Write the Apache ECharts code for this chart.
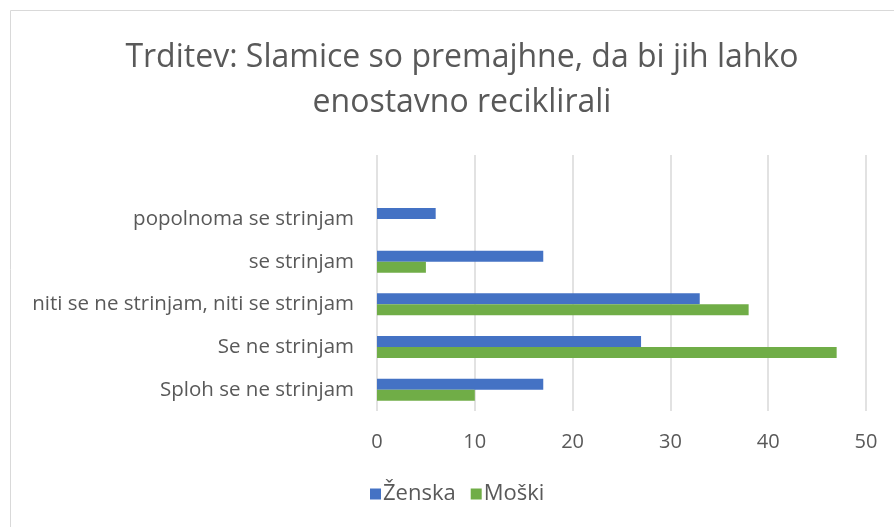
<!DOCTYPE html>
<html>
<head>
<meta charset="utf-8">
<script src="https://cdn.jsdelivr.net/npm/echarts@6/dist/echarts.min.js"></script>
<style>
  html, body { margin: 0; padding: 0; background: #fff; }
  #main { width: 894px; height: 527px; }
</style>
</head>
<body>
<div id="main"></div>
<script>
// categories bottom -> top (top one is the empty slot Excel leaves)
var categories = ['Sploh se ne strinjam', 'Se ne strinjam', 'niti se ne strinjam, niti se strinjam', 'se strinjam', 'popolnoma se strinjam', ''];
var zenska = [17, 27, 33, 17, 6, null];
var moski = [10, 47, 38, 5, null, null];
var xTicks = [0, 10, 20, 30, 40, 50];

var font = 'Open Sans';
var chart = echarts.init(document.getElementById('main'));

chart.setOption({
    animation: false,
    title: {
        text: 'Trditev: Slamice so premajhne, da bi jih lahko\nenostavno reciklirali',
        left: 457,
        textAlign: 'center',
        top: 30,
        textStyle: {
            fontFamily: font,
            fontSize: 32,
            fontWeight: 'normal',
            color: '#595959',
            lineHeight: 45
        }
    },
    legend: {
        data: ['Ženska', 'Moški'],
        bottom: 17,
        left: 365,
        icon: 'rect',
        itemWidth: 11,
        itemHeight: 11,
        itemGap: 15,
        itemStyle: { borderWidth: 0 },
        textStyle: { fontFamily: font, fontSize: 22, color: '#595959', padding: [0, 0, 0, -3] }
    },
    grid: {
        left: 377,
        right: 28,
        top: 155,
        bottom: 116,
        containLabel: false
    },
    xAxis: {
        type: 'value',
        min: xTicks[0],
        max: xTicks[xTicks.length - 1],
        interval: 10,
        axisLine: { show: false },
        axisTick: { show: false },
        splitLine: { lineStyle: { color: '#d9d9d9', width: 1.5 } },
        axisLabel: { fontFamily: font, fontSize: 20, color: '#595959', margin: 21 }
    },
    yAxis: {
        type: 'category',
        data: categories,
        axisLine: { show: false },
        axisTick: { show: false },
        axisLabel: { fontFamily: font, fontSize: 20.5, color: '#595959', margin: 23 }
    },
    series: [
        {
            name: 'Ženska',
            type: 'bar',
            data: zenska,
            barWidth: 11,
            barGap: '0%',
            itemStyle: { color: '#4472c4' }
        },
        {
            name: 'Moški',
            type: 'bar',
            data: moski,
            barWidth: 11,
            itemStyle: { color: '#70ad47' }
        }
    ],
    graphic: [{
        type: 'rect',
        shape: { x: 10.5, y: 10.5, width: 900, height: 530 },
        style: { fill: 'none', stroke: '#d9d9d9', lineWidth: 1 },
        silent: true
    }]
});
</script>
</body>
</html>
